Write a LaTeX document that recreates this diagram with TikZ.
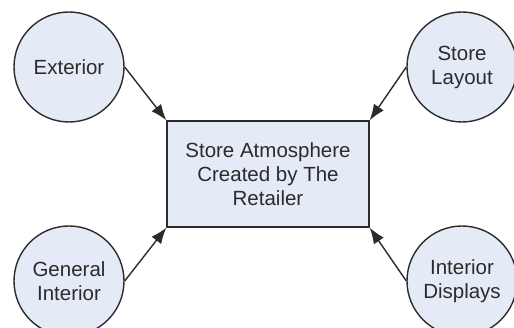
\documentclass[tikz,border=0pt]{standalone}
\usepackage{fontspec}
\setmainfont{Liberation Sans}
\usetikzlibrary{arrows.meta}
\definecolor{nodefill}{HTML}{E4EAF6}
\definecolor{linegray}{HTML}{2B2B2B}

\begin{document}
\begin{tikzpicture}[x=1pt,y=-1pt,
    factor/.style={draw=linegray, line width=1.4pt, fill=nodefill, circle,
        minimum size=110pt, inner sep=0pt, align=center, text=linegray,
        font=\fontsize{20.5}{24}\selectfont},
    centre/.style={draw=linegray, line width=1.4pt, fill=nodefill,
        minimum width=202pt, minimum height=106pt, align=center, text=linegray,
        font=\fontsize{20.5}{24}\selectfont},
    link/.style={draw=linegray, line width=1.4pt, -{Latex[length=16pt,width=12pt]}}]
    \useasboundingbox (0,0) rectangle (514,328);
    \node[centre] (atmos) at (268,174) {Store Atmosphere\\Created by The\\Retailer};
    \node[factor] (ext) at (69,67) {Exterior};
    \node[factor] (lay) at (462,67) {Store\\Layout};
    \node[factor] (gen) at (69,281) {General\\Interior};
    \node[factor] (disp) at (462,281) {Interior\\Displays};

    \draw[link] (ext.east) -- (atmos.north west);
    \draw[link] (lay.west) -- (atmos.north east);
    \draw[link] (gen.east) -- (atmos.south west);
    \draw[link] (disp.west) -- (atmos.south east);
\end{tikzpicture}
\end{document}
